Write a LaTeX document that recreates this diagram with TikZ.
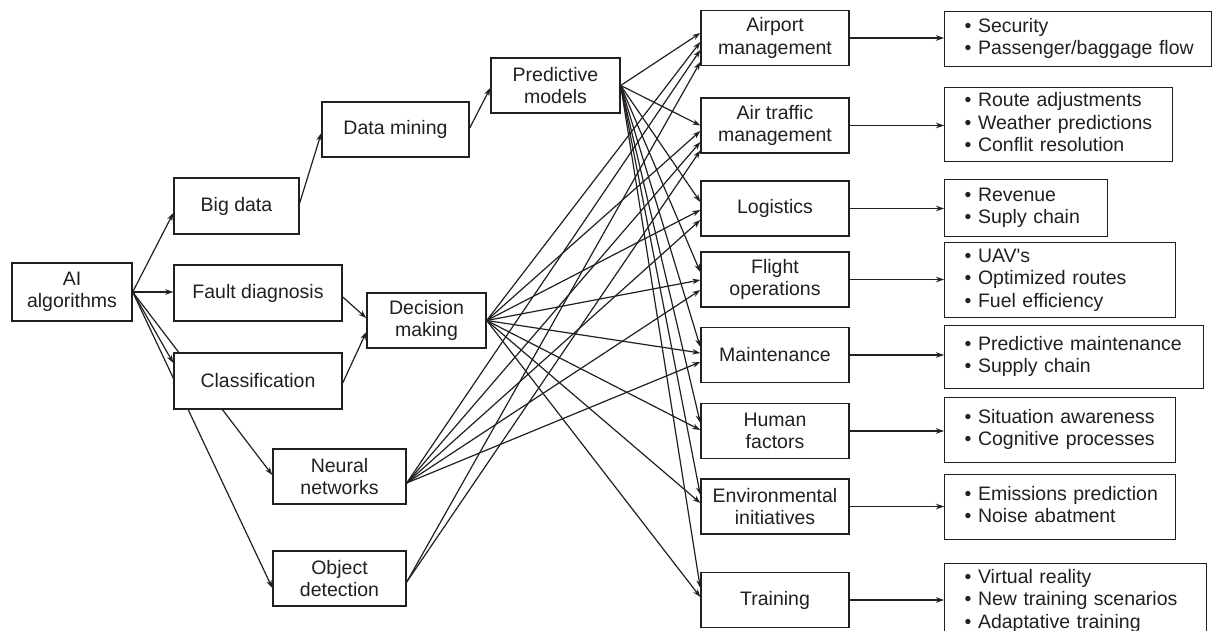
\documentclass[tikz,border=0pt]{standalone}
\usepackage{fontspec}
\setmainfont{Liberation Sans}
\usetikzlibrary{arrows.meta,backgrounds}
\definecolor{ink}{RGB}{35,31,32}
\newcommand\blist[1]{\begin{tabular}{@{}l@{}}#1\end{tabular}}
\begin{document}
\begin{tikzpicture}[x=1pt,y=-1pt,
  box/.style={draw=ink,line width=1.4pt,fill=white,align=center,inner sep=0pt,
    font=\fontsize{19.5}{22.5}\selectfont,text=ink},
  lst/.style={draw=ink,line width=1.4pt,fill=white,align=left,inner xsep=20pt,inner ysep=0pt,
    anchor=north west,font=\fontsize{19.5}{22.5}\selectfont,text=ink},
  arr/.style={draw=ink,line width=1.2pt,-{Stealth[length=8pt,width=5.5pt]}}]
\useasboundingbox (0,0) rectangle (1213,631);

% left / middle boxes
\node[box,minimum width=120pt,minimum height=58pt] (ai)  at (72,292)    {AI\\algorithms};
\node[box,minimum width=125pt,minimum height=56pt] (bd)  at (236.5,206) {Big data};
\node[box,minimum width=147pt,minimum height=55pt] (dm)  at (395.5,129.5) {Data mining};
\node[box,minimum width=168pt,minimum height=56pt] (fd)  at (258,293)   {Fault diagnosis};
\node[box,minimum width=119pt,minimum height=55pt] (dec) at (426.5,320.5) {Decision\\making};
\node[box,minimum width=168pt,minimum height=56pt] (cl)  at (258,381)   {Classification};
\node[box,minimum width=133pt,minimum height=55pt] (nn)  at (339.5,476.5) {Neural\\networks};
\node[box,minimum width=133pt,minimum height=55pt] (od)  at (339.5,578.5) {Object\\detection};
\node[box,minimum width=129pt,minimum height=55pt] (pm)  at (555.5,85.5) {Predictive\\models};

% application boxes
\node[box,minimum width=148pt,minimum height=55pt] (am)  at (775,38)    {Airport\\management};
\node[box,minimum width=148pt,minimum height=55pt] (atm) at (775,125.5) {Air traffic\\management};
\node[box,minimum width=148pt,minimum height=55pt] (lo)  at (775,208.5) {Logistics};
\node[box,minimum width=148pt,minimum height=55pt] (fo)  at (775,279.5) {Flight\\operations};
\node[box,minimum width=148pt,minimum height=55pt] (ma)  at (775,355)   {Maintenance};
\node[box,minimum width=148pt,minimum height=55pt] (hf)  at (775,431)   {Human\\factors};
\node[box,minimum width=148pt,minimum height=55pt] (ei)  at (775,506.5) {Environmental\\initiatives};
\node[box,minimum width=148pt,minimum height=55pt] (tr)  at (775,600)   {Training};

% detail boxes
\node[lst,text width=227pt,minimum height=55pt] (r1) at (944,11)  {\blist{• Security\\• Passenger/baggage flow}};
\node[lst,text width=188pt,minimum height=74pt] (r2) at (944,87)  {\blist{• Route adjustments\\• Weather predictions\\• Conflit resolution}};
\node[lst,text width=123pt,minimum height=57pt] (r3) at (944,179) {\blist{• Revenue\\• Suply chain}};
\node[lst,text width=191pt,minimum height=75pt] (r4) at (944,242) {\blist{• UAV\textquotesingle s\\• Optimized routes\\• Fuel efficiency}};
\node[lst,text width=219pt,minimum height=63pt] (r5) at (944,325) {\blist{• Predictive maintenance\\• Supply chain}};
\node[lst,text width=191pt,minimum height=65pt] (r6) at (944,397) {\blist{• Situation awareness\\• Cognitive processes}};
\node[lst,text width=191pt,minimum height=65pt] (r7) at (944,474) {\blist{• Emissions prediction\\• Noise abatment}};
\node[lst,text width=222pt,minimum height=75pt] (r8) at (944,563) {\blist{• Virtual reality\\• New training scenarios\\• Adaptative training}};

\begin{pgfonlayer}{background}
  % from AI algorithms
  \draw[arr] (ai.east) -- ([yshift=-7pt]bd.west);
  \draw[arr] (ai.east) -- (ai.east -| fd.west);
  \draw[arr] (ai.east) -- ([yshift=18pt]cl.west);
  \draw[arr] (ai.east) -- ([yshift=1.5pt]nn.west);
  \draw[arr] (ai.east) -- ([yshift=-9.5pt]od.west);
  % chains
  \draw[arr] ([yshift=3pt]bd.east) -- ([yshift=-3.5pt]dm.west);
  \draw[arr] ([yshift=1.5pt]dm.east) -- ([yshift=-2.5pt]pm.west);
  \draw[arr] ([yshift=-4pt]fd.east) -- ([yshift=2.5pt]dec.west);
  \draw[arr] ([yshift=-2pt]cl.east) -- ([yshift=-11.5pt]dec.west);
  % fans
  \foreach \t/\s in {am/5,atm/0,lo/6.5,fo/7.5,ma/8,hf/8,ei/11.5,tr/12}
    \draw[arr] (pm.east) -- ([yshift=\s pt]\t.west);
  \foreach \t/\s in {am/-4,atm/-5.5,lo/-1.5,fo/-0.5,ma/2,hf/1,ei/3.5,tr/3}
    \draw[arr] (dec.east) -- ([yshift=\s pt]\t.west);
  \foreach \t/\s in {am/-12,atm/-16.5,lo/-11.5,fo/-10.5,ma/-7}
    \draw[arr] ([yshift=-6.5pt]nn.east) -- ([yshift=\s pt]\t.west);
  \foreach \t/\s in {am/-24,atm/-25}
    \draw[arr] ([yshift=-3.5pt]od.east) -- ([yshift=\s pt]\t.west);
  % to details
  \draw[arr] (am.east)  -- (am.east -| r1.west);
  \draw[arr] (atm.east) -- (atm.east -| r2.west);
  \draw[arr] (lo.east)  -- (lo.east -| r3.west);
  \draw[arr] (fo.east)  -- (fo.east -| r4.west);
  \draw[arr] (ma.east)  -- (ma.east -| r5.west);
  \draw[arr] (hf.east)  -- (hf.east -| r6.west);
  \draw[arr] (ei.east)  -- (ei.east -| r7.west);
  \draw[arr] (tr.east)  -- (tr.east -| r8.west);
\end{pgfonlayer}
\end{tikzpicture}
\end{document}
